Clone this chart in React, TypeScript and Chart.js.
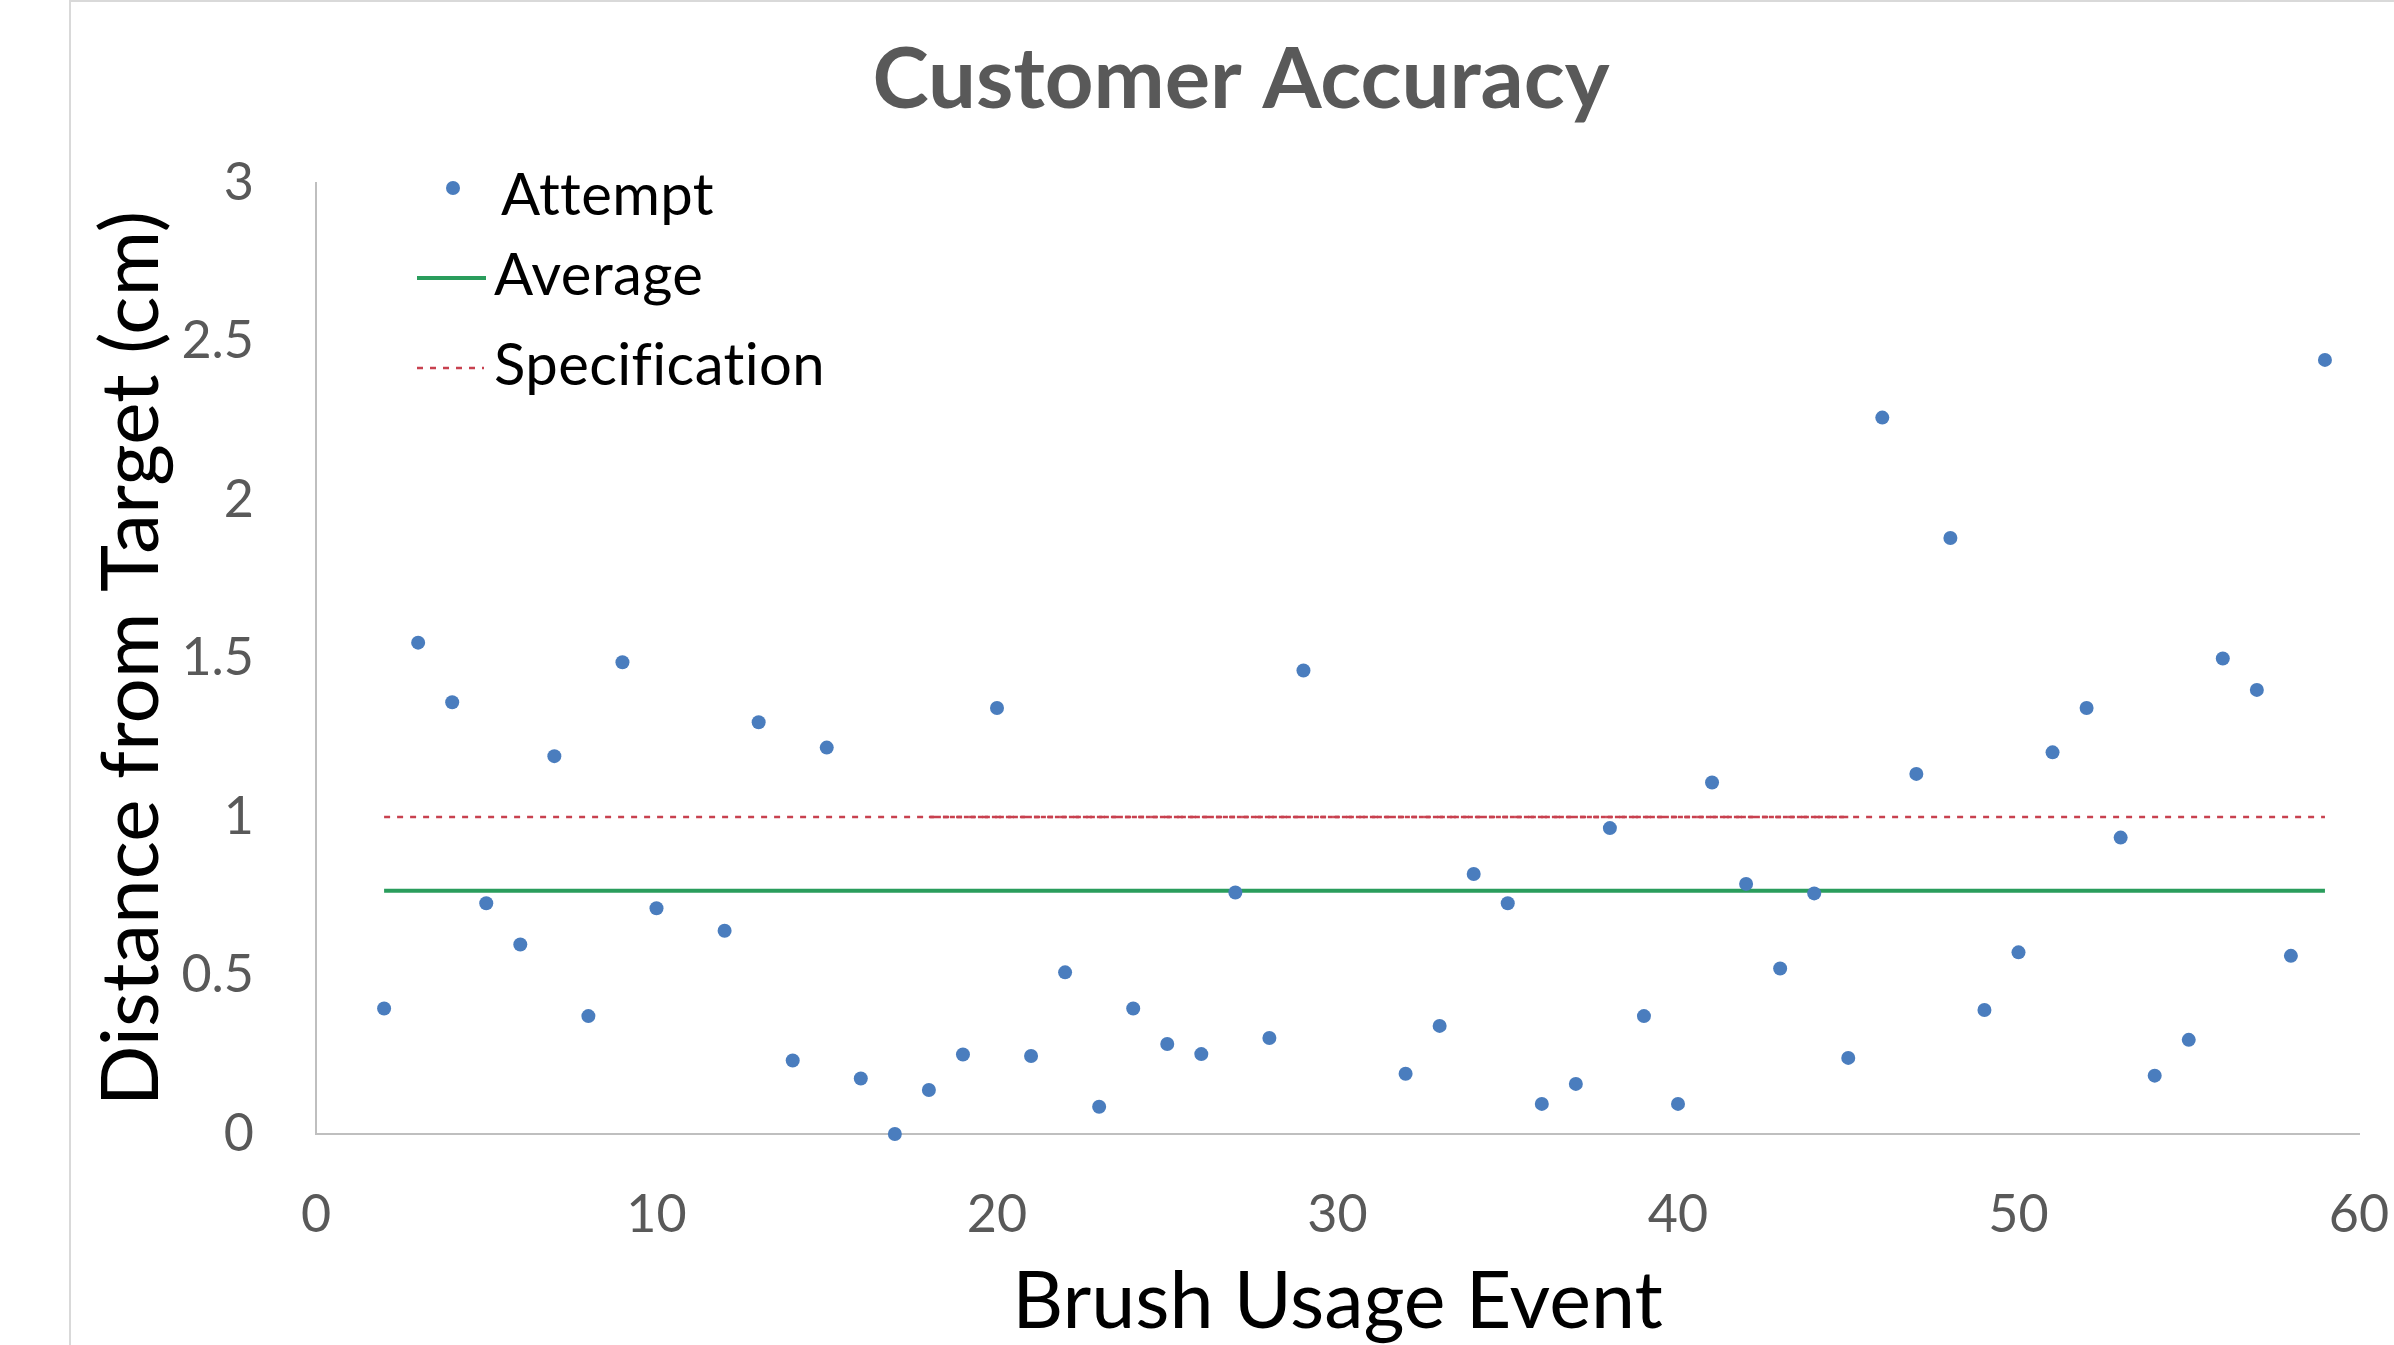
import React, { useEffect, useRef } from 'react';
import { Chart, registerables } from 'chart.js';

Chart.register(...registerables);

const CHART_TITLE = 'Customer Accuracy';
const X_AXIS_TITLE = 'Brush Usage Event';
const Y_AXIS_TITLE = 'Distance from Target (cm)';
const SERIES_NAMES = ['Attempt', 'Average', 'Specification'];

const eventNumbers = [
  2, 3, 4, 5, 6, 7, 8, 9, 10, 12, 13, 14, 15, 16, 17, 18, 19, 20, 21, 22, 23, 24, 25, 26, 27, 28, 29,
  32, 33, 34, 35, 36, 37, 38, 39, 40, 41, 42, 43, 44, 45, 46, 47, 48, 49, 50, 51, 52, 53, 54, 55, 56, 57, 58, 59,
];
const distances = [
  0.396, 1.55, 1.362, 0.728, 0.598, 1.192, 0.372, 1.488, 0.712, 0.641, 1.299, 0.232, 1.219, 0.175, 0.0, 0.139,
  0.251, 1.344, 0.246, 0.51, 0.086, 0.396, 0.284, 0.252, 0.762, 0.303, 1.462,
  0.19, 0.341, 0.82, 0.728, 0.095, 0.158, 0.965, 0.372, 0.095, 1.109, 0.789, 0.522, 0.759, 0.24, 2.26, 1.136,
  1.88, 0.391, 0.573, 1.204, 1.344, 0.935, 0.184, 0.297, 1.5, 1.401, 0.562, 2.442,
];

const averageX = [2, 59];
const averageY = [0.767, 0.767];
const specX = [2, 59];
const specY = [1, 1];
const specOverlapX = [18, 45];
const specOverlapY = [1, 1];

const xTickLabels = ['0', '10', '20', '30', '40', '50', '60'];
const yTickLabels = ['0', '0.5', '1', '1.5', '2', '2.5', '3'];

const BLUE = '#4A7DBE';
const GREEN = '#2A9D5C';
const RED = '#C8414F';
const TICK_GRAY = '#595959';
const AXIS_GRAY = '#BFBFBF';
const FONT = 'Lato';

const toPoints = (xs: number[], ys: number[]) => xs.map((x, i) => ({ x, y: ys[i] }));

const legendPlugin = {
  id: 'customLegend',
  afterDraw(chart: any) {
    const ctx = chart.ctx as any;
    const ds = chart.data.datasets;
    ctx.save();
    ctx.font = `58px ${FONT}`;
    try {
      ctx.letterSpacing = '0.4px';
    } catch (e) {
      /* ignore */
    }
    ctx.fillStyle = '#000';
    ctx.textAlign = 'left';
    ctx.textBaseline = 'alphabetic';

    // Attempt
    ctx.beginPath();
    ctx.fillStyle = ds[0].pointBackgroundColor;
    ctx.arc(453, 188, ds[0].pointRadius, 0, Math.PI * 2);
    ctx.fill();
    ctx.fillStyle = '#000';
    ctx.fillText(SERIES_NAMES[0], 501, 215);

    // Average
    ctx.strokeStyle = ds[1].borderColor;
    ctx.lineWidth = ds[1].borderWidth;
    ctx.setLineDash([]);
    ctx.beginPath();
    ctx.moveTo(417, 278);
    ctx.lineTo(486, 278);
    ctx.stroke();
    ctx.fillText(SERIES_NAMES[1], 494, 295);

    // Specification
    ctx.strokeStyle = ds[2].borderColor;
    ctx.lineWidth = ds[2].borderWidth;
    ctx.setLineDash(ds[2].borderDash);
    ctx.beginPath();
    ctx.moveTo(417, 368);
    ctx.lineTo(484, 368);
    ctx.stroke();
    ctx.setLineDash([]);
    ctx.fillText(SERIES_NAMES[2], 494, 385);
    ctx.restore();
  },
};

export default function App() {
  const ref = useRef<HTMLCanvasElement | null>(null);

  useEffect(() => {
    if (!ref.current) return;
    const chart = new Chart(ref.current, {
      type: 'scatter',
      data: {
        datasets: [
          {
            label: SERIES_NAMES[0],
            data: toPoints(eventNumbers, distances),
            showLine: false,
            pointRadius: 7,
            pointHoverRadius: 7,
            pointBackgroundColor: BLUE,
            pointBorderWidth: 0,
            pointBorderColor: BLUE,
            clip: false,
          } as any,
          {
            label: SERIES_NAMES[1],
            data: toPoints(averageX, averageY),
            showLine: true,
            borderColor: GREEN,
            borderWidth: 4,
            pointRadius: 0,
            fill: false,
          } as any,
          {
            label: SERIES_NAMES[2],
            data: toPoints(specX, specY),
            showLine: true,
            borderColor: RED,
            borderWidth: 2.5,
            borderDash: [6, 7],
            pointRadius: 0,
            fill: false,
          } as any,
          {
            label: SERIES_NAMES[2] + ' ',
            data: toPoints(specOverlapX, specOverlapY),
            showLine: true,
            borderColor: RED,
            borderWidth: 2.5,
            borderDash: [5, 2],
            pointRadius: 0,
            fill: false,
          } as any,
        ],
      },
      options: {
        animation: false,
        responsive: false,
        maintainAspectRatio: false,
        devicePixelRatio: 1,
        events: [],
        layout: { padding: { left: 123, right: 35, top: 0, bottom: 0 } },
        plugins: {
          legend: { display: false },
          tooltip: { enabled: false },
          title: {
            display: true,
            text: CHART_TITLE,
            color: TICK_GRAY,
            font: { family: FONT, size: 85, weight: 'bold' },
            padding: { top: 30, bottom: 51 },
          },
        },
        scales: {
          x: {
            type: 'linear',
            min: 0,
            max: 60,
            ticks: {
              stepSize: 10,
              color: TICK_GRAY,
              font: { family: FONT, size: 52 },
              padding: 50,
              maxRotation: 0,
              autoSkip: false,
              callback: (_v: any, i: number) => xTickLabels[i],
            },
            grid: { display: false, drawTicks: false },
            border: { display: true, color: AXIS_GRAY, width: 2 },
            title: {
              display: true,
              text: X_AXIS_TITLE,
              color: '#000',
              font: { family: FONT, size: 79 },
              padding: { top: 0, bottom: -5 },
            },
            afterFit: (scale: any) => {
              scale.height = 211;
              scale.paddingLeft = 0;
              scale.paddingRight = 0;
            },
          },
          y: {
            type: 'linear',
            min: 0,
            max: 3,
            ticks: {
              stepSize: 0.5,
              color: TICK_GRAY,
              font: { family: FONT, size: 52 },
              padding: 62,
              autoSkip: false,
              callback: (_v: any, i: number) => yTickLabels[i],
            },
            grid: { display: false, drawTicks: false },
            border: { display: true, color: AXIS_GRAY, width: 2 },
            title: {
              display: true,
              text: Y_AXIS_TITLE,
              color: '#000',
              font: { family: FONT, size: 80 },
              padding: { top: -39, bottom: 0 },
            },
            afterFit: (scale: any) => {
              scale.width = 193;
              scale.paddingTop = 0;
              scale.paddingBottom = 0;
            },
          },
        },
      } as any,
      plugins: [legendPlugin],
    });
    return () => chart.destroy();
  }, []);

  return (
    <div
      style={{
        position: 'fixed',
        left: 0,
        top: 0,
        width: 2394,
        height: 1345,
        background: '#ffffff',
        overflow: 'hidden',
      }}
    >
      <div
        style={{
          position: 'absolute',
          left: 69,
          top: 0,
          width: 2400,
          height: 1400,
          borderLeft: '2px solid #D9D9D9',
          borderTop: '2px solid #D9D9D9',
        }}
      />
      <canvas
        ref={ref}
        width={2394}
        height={1345}
        style={{ position: 'absolute', left: 0, top: 0, width: 2394, height: 1345 }}
      />
    </div>
  );
}
